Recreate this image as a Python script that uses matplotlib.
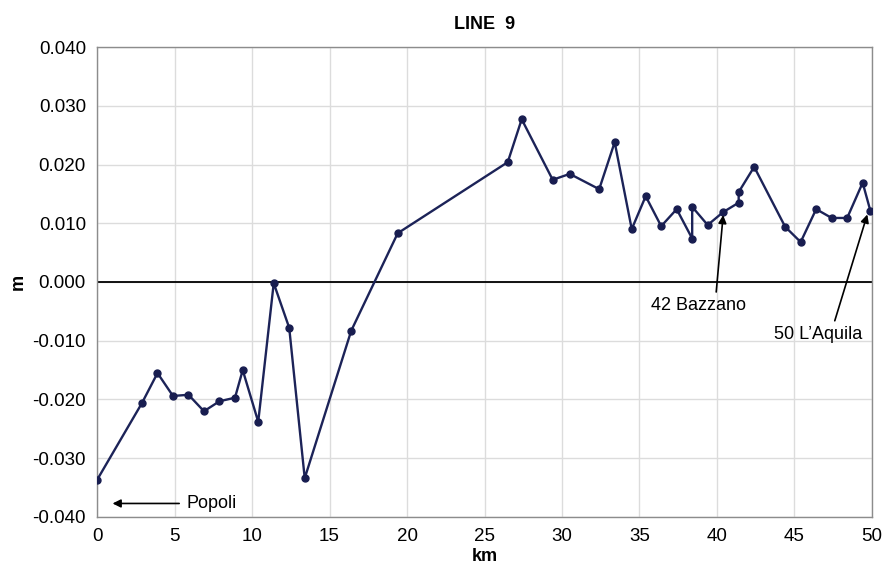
import numpy as np
import matplotlib
matplotlib.use('Agg')
import matplotlib.pyplot as plt

plt.rcParams['font.family'] = ['Liberation Sans', 'DejaVu Sans']

# levelling line 9: distance along the line (km) and height change (m)
km = [0.0, 2.9, 3.9, 4.9, 5.9, 6.9, 7.9, 8.9, 9.4, 10.4, 11.4, 12.4, 13.4,
      16.4, 19.4, 26.5, 27.4, 29.4, 30.5, 32.4, 33.4, 34.5, 35.4, 36.4,
      37.4, 38.4, 38.4, 39.4, 40.4, 41.4, 41.4, 42.4, 44.4, 45.4, 46.4,
      47.4, 48.4, 49.4, 49.9]
dh = [-0.0337, -0.0206, -0.0155, -0.0194, -0.0192, -0.0220, -0.0203,
      -0.0197, -0.0150, -0.0238, -0.0002, -0.0078, -0.0334, -0.0083,
      0.0083, 0.0204, 0.0277, 0.0174, 0.0184, 0.0158, 0.0238, 0.0090,
      0.0146, 0.0095, 0.0124, 0.0074, 0.0128, 0.0097, 0.0119, 0.0135,
      0.0153, 0.0196, 0.0094, 0.0068, 0.0124, 0.0109, 0.0109, 0.0169,
      0.0121]

# (text, text position, arrow start, arrow tip)
notes = [
    ('42 Bazzano', (38.8, -0.0040), (39.95, -0.0017), (40.4, 0.0114)),
    ('50 L\u2019Aquila', (46.5, -0.0090), (47.6, -0.0066), (49.7, 0.0115)),
]

fig = plt.figure(figsize=(8.83, 5.72), dpi=100)
ax = fig.add_axes([0.1099, 0.0962, 0.8776, 0.8216])

ax.plot(km, dh, color='#1c2358', lw=1.7, marker='o', ms=5,
        mfc='#181d50', mec='#181d50', zorder=3)
ax.axhline(0, color='black', lw=1.3, zorder=2)

ax.set_xlim(0, 50)
ax.set_ylim(-0.04, 0.04)
ax.set_xticks(np.arange(0, 51, 5))
ax.set_yticks(np.arange(-0.04, 0.0401, 0.01))
ax.yaxis.set_major_formatter(matplotlib.ticker.FormatStrFormatter('%.3f'))
ax.tick_params(length=0, labelsize=13.5, pad=8)
ax.grid(True, color='#dcdcdc', lw=1)
ax.set_axisbelow(True)
for s in ax.spines.values():
    s.set_color('#8c8c8c')
    s.set_linewidth(1)

ax.set_xlabel('km', fontsize=13, fontweight='bold', labelpad=2)
ax.set_ylabel('m', fontsize=13, fontweight='bold', labelpad=4)
ax.set_title('LINE  9', fontsize=13, fontweight='bold', pad=13)

arrow = dict(arrowstyle='-|>', color='black', lw=1.2, mutation_scale=12,
             shrinkA=0, shrinkB=0)

# start of the line
ax.annotate('', xy=(1.0, -0.0377), xytext=(5.3, -0.0377), arrowprops=arrow)
ax.text(5.8, -0.0377, 'Popoli', fontsize=13, va='center', ha='left')

for label, pos, start, tip in notes:
    ax.text(pos[0], pos[1], label, fontsize=13, ha='center', va='center')
    ax.annotate('', xy=tip, xytext=start, arrowprops=arrow)

fig.savefig('out.png', dpi=100)
